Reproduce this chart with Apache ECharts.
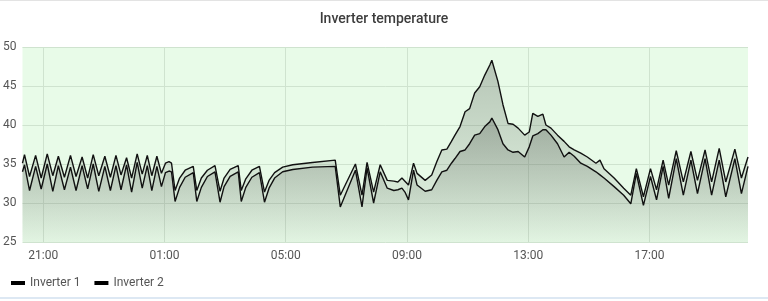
<!DOCTYPE html>
<html>
<head>
<meta charset="utf-8">
<script src="https://cdn.jsdelivr.net/npm/echarts@6/dist/echarts.min.js"></script>
<style>
html,body{margin:0;padding:0;background:#fff;}
#chart{width:768px;height:301px;}
</style>
</head>
<body>
<div id="chart"></div>
<script>
const chartTitle = 'Inverter temperature';
const seriesNames = ['Inverter 1', 'Inverter 2'];
const yTicks = [25, 30, 35, 40, 45, 50];
const xTickHours = [21, 25, 29, 33, 37, 41];

const times = [
  '20:19','20:23','20:33','20:45','20:56','21:08','21:19','21:30','21:42','21:54',
  '22:05','22:17','22:28','22:39','22:50','23:02','23:13','23:24','23:34','23:45',
  '23:55','00:06','00:16','00:26','00:35','00:45','00:54',
  '01:02','01:09','01:14','01:21','01:30','01:41','01:57','02:04','02:13','02:25',
  '02:40','02:50','02:58','03:10','03:26','03:32','03:41','03:53','04:08','04:18',
  '04:27','04:38','04:54','05:14','05:53','06:38','06:48',
  '07:18','07:31','07:41','07:54','08:07','08:21','08:34','08:42','08:50','08:56',
  '09:03','09:13','09:20','09:36','09:49','09:59','10:09','10:19','10:28','10:35',
  '10:45','10:55','11:04','11:14','11:24','11:34','11:44','11:48','12:00','12:10',
  '12:20','12:30','12:40','12:53','13:02','13:09','13:19','13:29','13:35','13:45',
  '13:58','14:11','14:21','14:31','14:44','14:57','15:14','15:22','15:30','15:50',
  '16:09','16:23','16:34','16:48','17:02','17:14','17:27','17:38','17:53','18:07',
  '18:22','18:35','18:50','19:03','19:18','19:31','19:49','20:02','20:15'
];

const inverter1 = [
  35.1,36.2,33.4,36.1,33.2,36.3,33.5,36.0,33.3,36.1,
  33.4,35.9,33.2,36.2,33.5,36.0,33.3,36.1,33.6,35.8,
  33.2,36.3,33.7,36.1,33.5,36.0,33.8,
  35.1,35.3,35.1,31.6,33.2,34.2,34.7,31.6,33.2,34.2,
  34.8,31.5,33.2,34.3,34.8,31.6,33.1,34.2,34.7,31.4,
  32.9,33.9,34.6,34.9,35.2,35.5,31.0,
  35.0,31.0,35.2,31.4,34.9,32.9,32.8,32.7,33.2,32.8,
  32.3,35.1,33.8,32.9,33.6,35.3,36.8,36.9,37.9,38.7,
  39.8,41.7,42.1,44.1,44.9,46.4,47.7,48.3,45.6,42.6,
  40.2,40.1,39.6,38.7,39.1,41.5,41.1,41.4,40.0,39.6,
  38.7,37.9,37.2,36.8,36.4,35.9,35.1,35.5,34.4,33.2,
  31.9,31.0,34.4,30.8,34.4,31.7,35.5,32.3,36.7,32.7,
  36.6,32.9,36.8,32.7,37.0,32.7,36.9,33.2,35.9
];

const inverter2 = [
  34.0,34.9,31.6,34.7,31.8,35.0,31.5,34.8,31.7,34.6,
  31.6,34.8,31.8,35.0,31.5,34.7,31.6,34.8,31.7,34.9,
  31.4,35.2,31.9,34.8,31.6,34.7,32.1,
  33.9,34.1,34.0,30.2,32.0,33.3,33.9,30.2,32.0,33.4,
  34.0,30.1,32.1,33.4,34.0,30.2,32.0,33.3,33.9,30.1,
  31.9,33.2,34.0,34.3,34.6,34.7,29.5,
  34.2,29.5,34.5,30.0,34.0,31.9,31.6,31.7,31.9,31.4,
  30.4,34.2,32.3,31.5,31.7,32.9,34.0,34.2,35.1,35.7,
  36.6,36.8,37.6,38.7,38.9,39.8,40.4,40.9,39.4,37.6,
  36.8,36.5,36.6,35.9,37.2,38.6,38.9,39.4,39.4,38.7,
  37.6,35.9,36.5,36.0,35.1,34.7,34.0,33.6,33.2,32.1,
  31.0,29.9,33.8,29.7,33.4,30.4,34.7,30.6,35.7,31.0,
  35.5,31.2,35.7,31.0,35.5,30.8,35.7,31.2,34.7
];

function toHours(list) {
  let day = 0, prev = -Infinity;
  return list.map(s => {
    const [h, m] = s.split(':').map(Number);
    let v = h + m / 60 + day * 24;
    if (v < prev) { day++; v += 24; }
    prev = v;
    return v;
  });
}
const hours = toHours(times);
const pts1 = hours.map((h, i) => [h, inverter1[i]]);
const pts2 = hours.map((h, i) => [h, inverter2[i]]);

function pad(n) { return (n < 10 ? '0' : '') + n; }

const areaGrad = () => new echarts.graphic.LinearGradient(0, 0, 0, 1, [
  { offset: 0, color: 'rgba(90,98,90,0.5)' },
  { offset: 1, color: 'rgba(90,98,90,0.03)' }
]);

const chart = echarts.init(document.getElementById('chart'), null, { renderer: 'canvas' });
chart.setOption({
  animation: false,
  textStyle: { fontFamily: 'Roboto' },
  title: {
    text: chartTitle,
    left: 'center',
    top: 7,
    textStyle: { fontSize: 14, fontWeight: 500, color: '#3d3d3d', fontFamily: 'Roboto' }
  },
  legend: {
    left: 6,
    top: 272,
    icon: 'rect',
    itemWidth: 14,
    itemHeight: 4,
    itemGap: 14,
    textStyle: { fontSize: 12, color: '#555' },
    data: seriesNames.map(n => ({ name: n, itemStyle: { color: '#000' } }))
  },
  grid: {
    left: 18, right: 20, top: 47, bottom: 59,
    show: true, backgroundColor: '#e8fbe8', borderWidth: 0
  },
  xAxis: {
    type: 'value',
    min: hours[0],
    max: hours[hours.length - 1],
    axisLine: { show: false },
    axisTick: { show: false, customValues: xTickHours },
    axisLabel: {
      customValues: xTickHours,
      margin: 8,
      fontSize: 12,
      color: '#555',
      formatter: v => pad(Math.round(v) % 24) + ':00'
    },
    splitLine: { show: true, lineStyle: { color: '#cfe3cf', width: 1 } }
  },
  yAxis: {
    type: 'value',
    min: yTicks[0],
    max: yTicks[yTicks.length - 1],
    interval: 5,
    axisLine: { show: false },
    axisTick: { show: false },
    axisLabel: { margin: 6, fontSize: 12, color: '#555' },
    splitLine: { show: true, lineStyle: { color: '#cfe3cf', width: 1 } }
  },
  series: [
    {
      name: seriesNames[0], type: 'line', data: pts1, showSymbol: false,
      lineStyle: { color: '#111', width: 1.4 }, itemStyle: { color: '#000' },
      areaStyle: { color: areaGrad() }
    },
    {
      name: seriesNames[1], type: 'line', data: pts2, showSymbol: false,
      lineStyle: { color: '#111', width: 1.4 }, itemStyle: { color: '#000' },
      areaStyle: { color: areaGrad() }
    }
  ],
  graphic: [
    { type: 'rect', shape: { x: 0, y: 0, width: 768, height: 1 }, style: { fill: '#e3e3e3' } },
    { type: 'rect', shape: { x: 0, y: 297, width: 768, height: 2 }, style: { fill: '#dde8f3' } }
  ]
});
</script>
</body>
</html>
